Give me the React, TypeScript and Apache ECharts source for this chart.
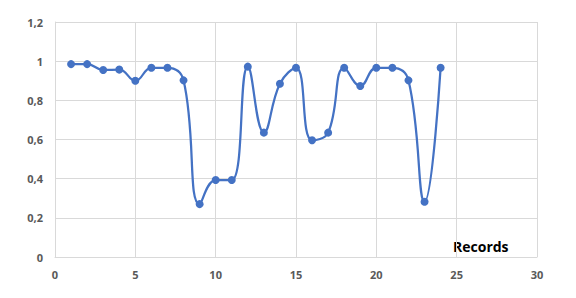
import React, { useEffect, useRef } from "react";
import * as echarts from "echarts";

const records = [1, 2, 3, 4, 5, 6, 7, 8, 9, 10, 11, 12, 13, 14, 15, 16, 17, 18, 19, 20, 21, 22, 23, 24];
const values = [0.985, 0.985, 0.955, 0.957, 0.9, 0.966, 0.966, 0.902, 0.27, 0.393, 0.393, 0.972, 0.635, 0.885, 0.966, 0.596, 0.635, 0.966, 0.873, 0.966, 0.966, 0.902, 0.282, 0.966];
const xAxisName = "Records";

export default function App() {
  const ref = useRef<HTMLDivElement>(null);
  useEffect(() => {
    const chart = echarts.init(ref.current!, null, { renderer: "svg" });
    const labelStyle = {
      color: "#595959",
      fontFamily: "Open Sans, sans-serif",
      fontSize: 11,
      fontWeight: "bold" as const,
    };
    chart.setOption({
      animation: false,
      backgroundColor: "#ffffff",
      grid: { left: 55, right: 39, top: 22, bottom: 41 },
      xAxis: {
        type: "value",
        min: 0,
        max: 30,
        interval: 5,
        axisLine: { show: true, lineStyle: { color: "#d9d9d9", width: 1 } },
        axisTick: { show: false },
        axisLabel: { ...labelStyle, margin: 12 },
        splitLine: { show: true, lineStyle: { color: "#d9d9d9", width: 1 } },
      },
      yAxis: {
        type: "value",
        min: 0,
        max: 1.2,
        interval: 0.2,
        axisLine: { show: true, lineStyle: { color: "#d9d9d9", width: 1 } },
        axisTick: { show: false },
        axisLabel: {
          ...labelStyle,
          margin: 12,
          formatter: (v: number) => String(Math.round(v * 10) / 10).replace(".", ","),
        },
        splitLine: { show: true, lineStyle: { color: "#d9d9d9", width: 1 } },
      },
      graphic: [
        {
          type: "text",
          left: 453,
          top: 239,
          style: {
            text: xAxisName,
            fill: "#000000",
            font: "bold 14px 'Open Sans', sans-serif",
          },
        },
      ],
      series: [
        {
          type: "line",
          data: records.map((r, i) => [r, values[i]]),
          smooth: 0.45,
          symbol: "circle",
          symbolSize: 8,
          itemStyle: { color: "#4472C4" },
          lineStyle: { color: "#4472C4", width: 2.25 },
        },
      ],
    });
    return () => chart.dispose();
  }, []);
  return <div ref={ref} style={{ width: 576, height: 298, margin: -8 }} />;
}
